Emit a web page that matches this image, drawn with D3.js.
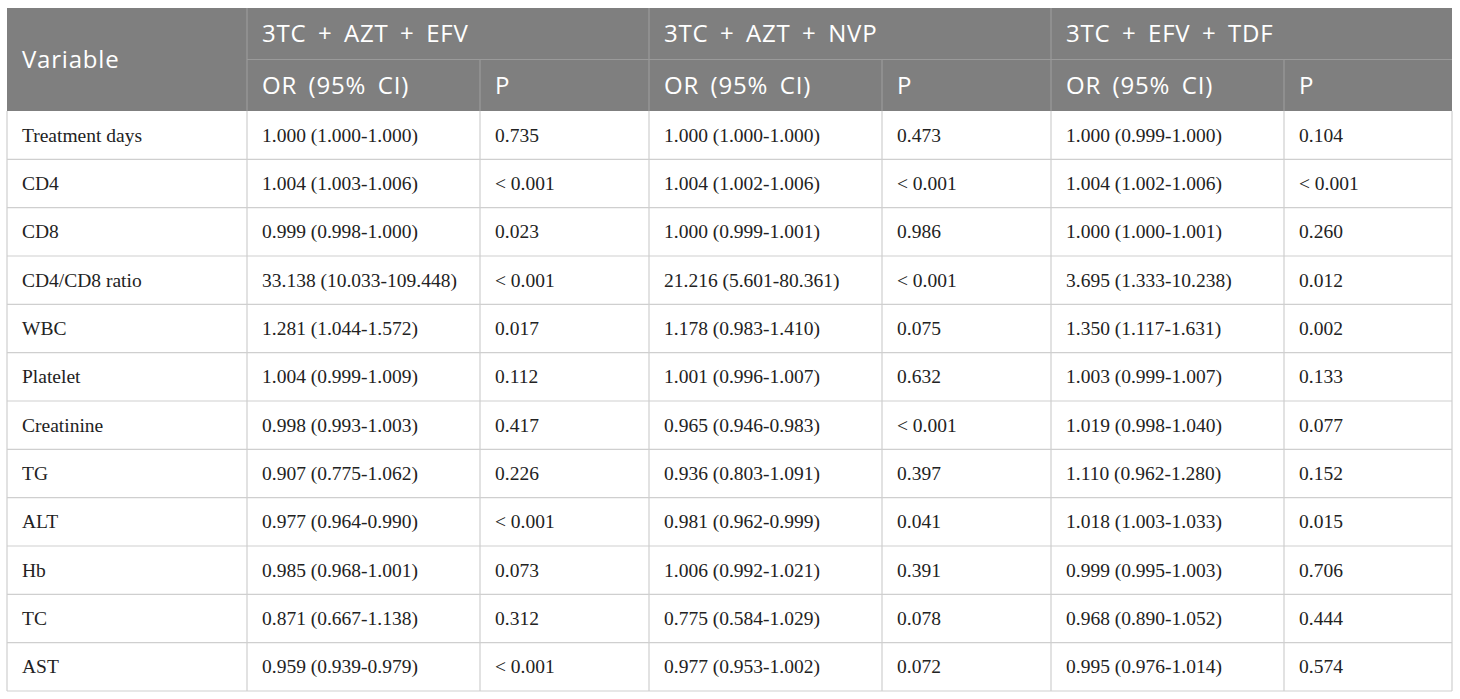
<!DOCTYPE html>
<html>
<head>
<meta charset="utf-8">
<script src="https://cdn.jsdelivr.net/npm/d3@7"></script>
<style>
  html, body { margin: 0; padding: 0; background: #fff; }
  .head { font-family: "Open Sans", sans-serif; font-size: 24px; fill: #fff; letter-spacing: 0.8px; word-spacing: 4.5px; }
  .cell { font-family: "Liberation Serif", "Times New Roman", serif; font-size: 19.5px; fill: #222; }
</style>
</head>
<body>
<div id="chart"></div>
<script>
const variables = ["Treatment days", "CD4", "CD8", "CD4/CD8 ratio", "WBC", "Platelet",
  "Creatinine", "TG", "ALT", "Hb", "TC", "AST"];

const regimens = ["3TC + AZT + EFV", "3TC + AZT + NVP", "3TC + EFV + TDF"];

const orAztEfv = ["1.000 (1.000-1.000)", "1.004 (1.003-1.006)", "0.999 (0.998-1.000)",
  "33.138 (10.033-109.448)", "1.281 (1.044-1.572)", "1.004 (0.999-1.009)",
  "0.998 (0.993-1.003)", "0.907 (0.775-1.062)", "0.977 (0.964-0.990)",
  "0.985 (0.968-1.001)", "0.871 (0.667-1.138)", "0.959 (0.939-0.979)"];
const pAztEfv = ["0.735", "< 0.001", "0.023", "< 0.001", "0.017", "0.112",
  "0.417", "0.226", "< 0.001", "0.073", "0.312", "< 0.001"];

const orAztNvp = ["1.000 (1.000-1.000)", "1.004 (1.002-1.006)", "1.000 (0.999-1.001)",
  "21.216 (5.601-80.361)", "1.178 (0.983-1.410)", "1.001 (0.996-1.007)",
  "0.965 (0.946-0.983)", "0.936 (0.803-1.091)", "0.981 (0.962-0.999)",
  "1.006 (0.992-1.021)", "0.775 (0.584-1.029)", "0.977 (0.953-1.002)"];
const pAztNvp = ["0.473", "< 0.001", "0.986", "< 0.001", "0.075", "0.632",
  "< 0.001", "0.397", "0.041", "0.391", "0.078", "0.072"];

const orEfvTdf = ["1.000 (0.999-1.000)", "1.004 (1.002-1.006)", "1.000 (1.000-1.001)",
  "3.695 (1.333-10.238)", "1.350 (1.117-1.631)", "1.003 (0.999-1.007)",
  "1.019 (0.998-1.040)", "1.110 (0.962-1.280)", "1.018 (1.003-1.033)",
  "0.999 (0.995-1.003)", "0.968 (0.890-1.052)", "0.995 (0.976-1.014)"];
const pEfvTdf = ["0.104", "< 0.001", "0.260", "0.012", "0.002", "0.133",
  "0.077", "0.152", "0.015", "0.706", "0.444", "0.574"];

const subHeads = ["OR (95% CI)", "P"];

const width = 1460, height = 699;
const tLeft = 7, tTop = 8, tRight = 1452, tBottom = 691;
const headRow = 51.5;
const pad = 15;

// column edges: variable | OR | P | OR | P | OR | P
const colWidths = [240, 233, 169, 233, 169, 233, 168];
const colEdges = colWidths.reduce((a, w) => (a.push(a[a.length - 1] + w), a), [tLeft]);

const columns = [variables, orAztEfv, pAztEfv, orAztNvp, pAztNvp, orEfvTdf, pEfvTdf];

const y = d3.scaleBand()
  .domain(variables)
  .range([tTop + headRow * 2, tBottom]);

const svg = d3.select("#chart").append("svg")
  .attr("width", width)
  .attr("height", height);

// header background
svg.append("rect")
  .attr("x", tLeft).attr("y", tTop)
  .attr("width", tRight - tLeft).attr("height", headRow * 2)
  .attr("fill", "#7f7f7f");

// body row lines
svg.append("g")
  .selectAll("line")
  .data(variables)
  .join("line")
  .attr("x1", tLeft).attr("x2", tRight)
  .attr("y1", d => y(d) + y.bandwidth())
  .attr("y2", d => y(d) + y.bandwidth())
  .attr("stroke", "#cfcfcf").attr("stroke-width", 1.2);

// body column lines
svg.append("g")
  .selectAll("line")
  .data(colEdges)
  .join("line")
  .attr("x1", d => d).attr("x2", d => d)
  .attr("y1", tTop + headRow * 2).attr("y2", tBottom)
  .attr("stroke", "#cfcfcf").attr("stroke-width", 1.2);

// header lines
const hd = svg.append("g").attr("stroke", "#9a9a9a").attr("stroke-width", 1.2);
hd.append("line")
  .attr("x1", colEdges[1]).attr("x2", tRight)
  .attr("y1", tTop + headRow).attr("y2", tTop + headRow);
[1, 3, 5].forEach(i => {
  hd.append("line")
    .attr("x1", colEdges[i]).attr("x2", colEdges[i])
    .attr("y1", tTop).attr("y2", tTop + headRow * 2);
});
[2, 4, 6].forEach(i => {
  hd.append("line")
    .attr("x1", colEdges[i]).attr("x2", colEdges[i])
    .attr("y1", tTop + headRow).attr("y2", tTop + headRow * 2);
});

// header text
svg.append("text").attr("class", "head")
  .attr("x", tLeft + pad).attr("y", tTop + headRow)
  .attr("dy", "0.36em")
  .text("Variable");

svg.append("g").selectAll("text")
  .data(regimens)
  .join("text")
  .attr("class", "head")
  .attr("x", (d, i) => colEdges[1 + i * 2] + pad)
  .attr("y", tTop + headRow / 2)
  .attr("dy", "0.36em")
  .text(d => d);

svg.append("g").selectAll("text")
  .data(d3.range(6))
  .join("text")
  .attr("class", "head")
  .attr("x", i => colEdges[1 + i] + pad)
  .attr("y", tTop + headRow * 1.5)
  .attr("dy", "0.36em")
  .text(i => subHeads[i % 2]);

// body text
columns.forEach((col, ci) => {
  svg.append("g").selectAll("text")
    .data(col)
    .join("text")
    .attr("class", "cell")
    .attr("x", colEdges[ci] + pad)
    .attr("y", (d, i) => y(variables[i]) + y.bandwidth() / 2)
    .attr("dy", "0.34em")
    .text(d => d);
});
</script>
</body>
</html>
